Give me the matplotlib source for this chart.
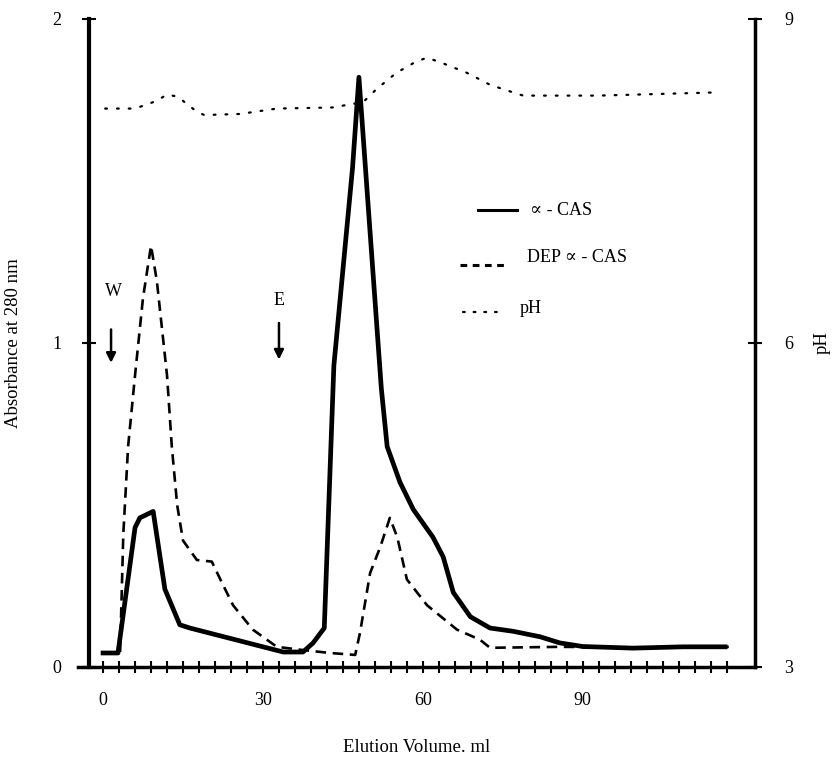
import numpy as np
import matplotlib.pyplot as plt

plt.rcParams['font.family'] = ['Liberation Serif', 'DejaVu Serif']

# alpha-CAS (solid)
cas_x = [0, 2.8, 6.0, 6.9, 9.4, 11.6, 14.4, 16.3, 33.8, 37.5, 39.4, 41.5,
         43.3, 46.8, 48.0, 52.2, 53.3, 55.7, 58.2, 61.9, 63.8, 65.7, 68.9,
         72.6, 76.9, 82.0, 85.7, 90.0, 99.4, 108.8, 116.7]
cas_y = [0.043, 0.043, 0.43, 0.46, 0.48, 0.24, 0.13, 0.12, 0.046, 0.046,
         0.074, 0.12, 0.93, 1.54, 1.82, 0.86, 0.68, 0.57, 0.486, 0.40, 0.34,
         0.23, 0.155, 0.12, 0.11, 0.093, 0.074, 0.063, 0.058, 0.062, 0.062]

# DEP alpha-CAS (dashed)
dep_x = [3.2, 3.8, 4.7, 6.0, 7.5, 9.0, 10.1, 12.0, 12.9, 13.9, 15.0, 17.6,
         20.4, 22.3, 24.4, 28.1, 32.6, 37.0, 42.6, 47.3, 48.2, 50.1, 52.0,
         53.8, 55.2, 57.0, 60.8, 66.4, 70.7, 72.6, 85.7, 100.0, 118.0]
dep_y = [0.046, 0.41, 0.68, 0.90, 1.14, 1.30, 1.19, 0.90, 0.68, 0.50, 0.39,
         0.33, 0.325, 0.26, 0.19, 0.115, 0.062, 0.053, 0.043, 0.037, 0.105,
         0.29, 0.37, 0.46, 0.40, 0.27, 0.19, 0.115, 0.084, 0.059, 0.062,
         0.06, 0.062]

# pH (dotted)
ph_x = [0.4, 6.0, 10.0, 12.0, 14.0, 17.6, 19.0, 25.7, 32.6, 43.0, 48.8,
        51.3, 55.0, 58.9, 60.8, 63.2, 68.3, 72.6, 76.9, 78.8, 93.0, 115.4]
ph_y = [8.17, 8.17, 8.24, 8.30, 8.28, 8.14, 8.11, 8.12, 8.17, 8.18, 8.23,
        8.35, 8.50, 8.61, 8.64, 8.60, 8.50, 8.39, 8.32, 8.29, 8.29, 8.32]

fig = plt.figure(figsize=(8.36, 7.57), dpi=100)
ax = fig.add_axes([0.0933, 0.119, 0.8098, 0.856])
ax2 = ax.twinx()

ax.plot(cas_x, cas_y, color='black', lw=3.4, solid_joinstyle='round')
ax.plot(dep_x, dep_y, color='black', lw=1.9, linestyle=(0, (4, 2.5)))
ax2.plot(ph_x, ph_y, color='black', lw=1.6, linestyle=(0, (0.8, 4.5)),
         dash_capstyle='round')

ax.set_xlim(-4.7, 122.3)
ax.set_ylim(0, 2)
ax2.set_ylim(3, 9)

ax.spines['top'].set_visible(False)
ax2.spines['top'].set_visible(False)
ax.spines['left'].set_position(('data', -2.6))
ax.spines['left'].set_linewidth(3)
ax.spines['bottom'].set_linewidth(2.5)
ax2.spines['right'].set_linewidth(2.5)
ax2.spines['left'].set_visible(False)
ax2.spines['bottom'].set_visible(False)
ax.spines['right'].set_visible(False)

ax.set_xticks(np.arange(0, 118, 3), minor=True)
ax.set_xticks([0, 30, 60, 90])
ax.set_xticklabels(['0', '30', '60', '90'])
ax.tick_params(axis='x', which='both', direction='inout', length=8, width=1.5,
               labelsize=13, pad=14)
ax.set_yticks([0, 1, 2])
ax.tick_params(axis='y', direction='inout', length=10, width=1.5,
               labelsize=13, pad=15)
ax2.set_yticks([3, 6, 9])
ax2.tick_params(axis='y', direction='inout', length=10, width=1.5,
                labelsize=13, pad=16)

ax.set_xlabel('Elution Volume. ml', fontsize=13.5, labelpad=22)
ax.set_ylabel('Absorbance at 280 nm', fontsize=13.5, labelpad=22)
ax2.set_ylabel('pH', fontsize=13.5, rotation=90, labelpad=15)

# W / E arrows
ax.annotate('', xy=(1.5, 0.93), xytext=(1.5, 1.05),
            arrowprops=dict(arrowstyle='-|>', color='black', lw=1.8,
                            mutation_scale=14))
ax.text(1.9, 1.16, 'W', fontsize=13, ha='center', va='center')
ax.annotate('', xy=(33.0, 0.94), xytext=(33.0, 1.07),
            arrowprops=dict(arrowstyle='-|>', color='black', lw=1.8,
                            mutation_scale=14))
ax.text(33.0, 1.13, 'E', fontsize=13, ha='center', va='center')

# legend drawn by hand
ax.plot([70.4, 77.7], [1.41, 1.41], color='black', lw=2.2)
ax.text(80.1, 1.41, '\u221d - CAS', fontsize=13, va='center')
ax.plot([67.0, 75.4], [1.24, 1.24], color='black', lw=2.2,
        linestyle=(0, (2.2, 1.8)))
ax.text(79.5, 1.265, 'DEP \u221d - CAS', fontsize=13, va='center')
ax.plot([67.5, 74.5], [1.095, 1.095], color='black', lw=1.6,
        linestyle=(0, (0.8, 4)), dash_capstyle='round')
ax.text(78.2, 1.105, 'pH', fontsize=13, va='center')

fig.savefig('out.png', dpi=100)
